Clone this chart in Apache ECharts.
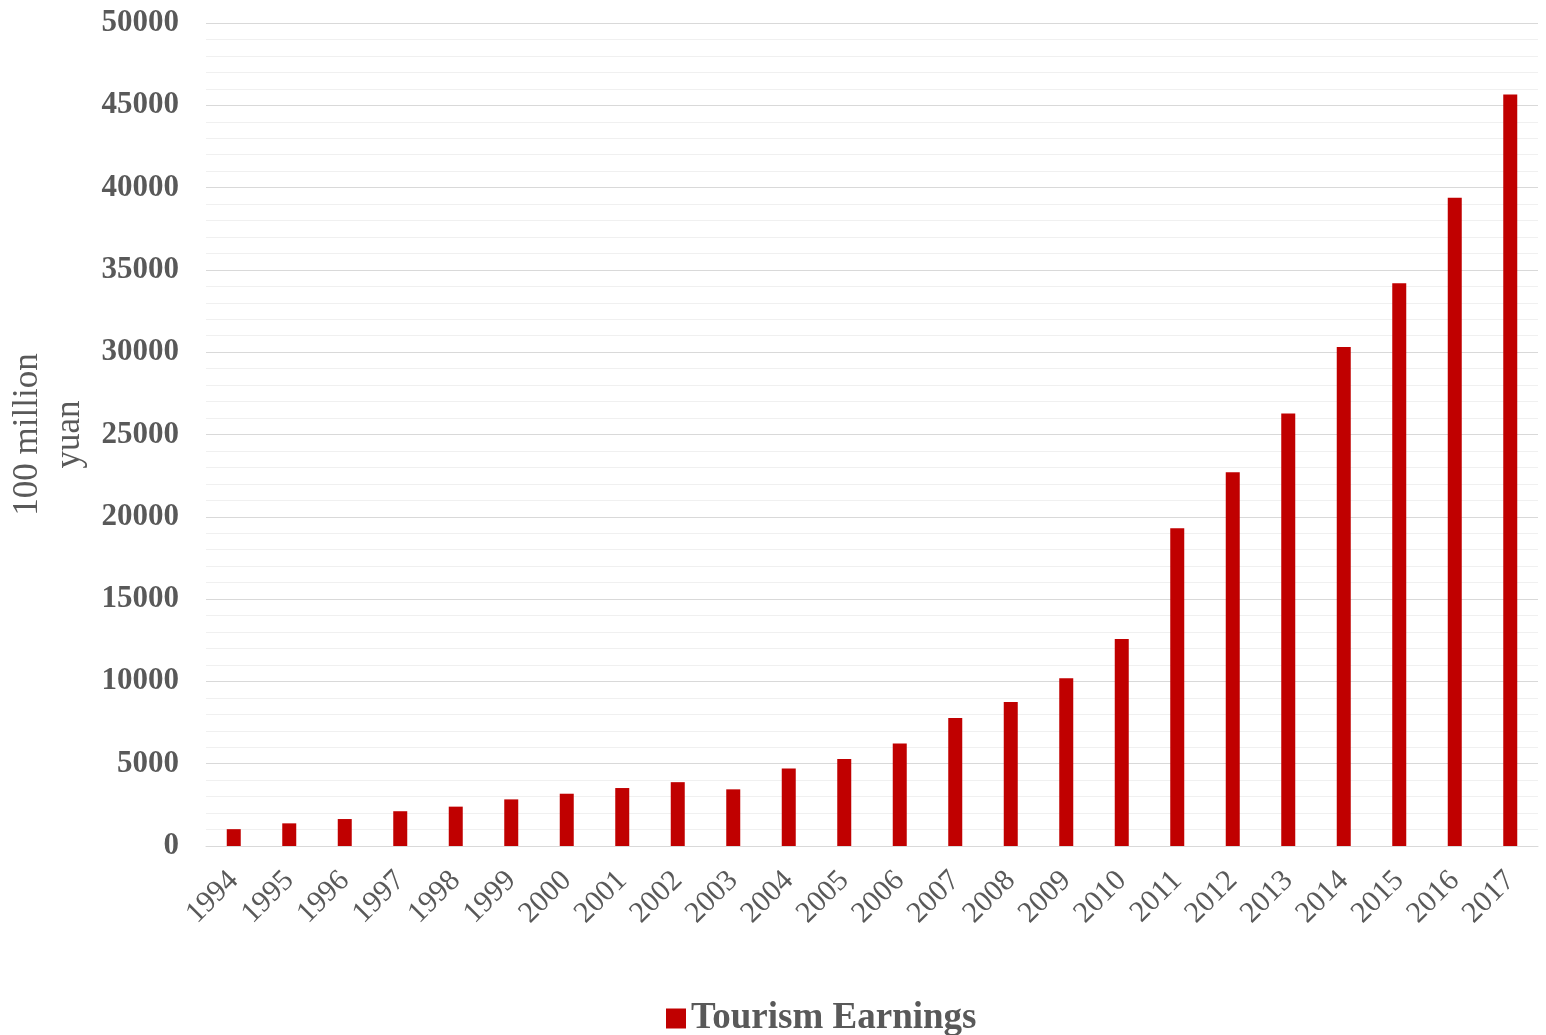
<!DOCTYPE html>
<html>
<head>
<meta charset="utf-8">
<script src="https://cdn.jsdelivr.net/npm/echarts@6/dist/echarts.min.js"></script>
<style>
  html, body { margin: 0; padding: 0; background: #fff; }
  #chart { width: 1546px; height: 1035px; }
</style>
</head>
<body>
<div id="chart"></div>
<script>
// Annual tourism earnings, 100 million yuan
const years = ['1994','1995','1996','1997','1998','1999','2000','2001','2002','2003','2004','2005',
               '2006','2007','2008','2009','2010','2011','2012','2013','2014','2015','2016','2017'];
const earnings = [1023, 1376, 1638, 2113, 2391, 2832, 3176, 3522, 3878, 3442, 4711, 5286,
                  6230, 7771, 8749, 10184, 12580, 19305, 22706, 26276, 30312, 34195, 39390, 45661];
const yTicks = [0, 50000, 5000]; // min, max, interval

const serif = '"Liberation Serif", "Times New Roman", serif';
const textColor = '#595959';

const chart = echarts.init(document.getElementById('chart'));
chart.setOption({
  animation: false,
  grid: { left: 206, right: 8, top: 23, bottom: 189, outerBoundsMode: 'none', containLabel: false },
  legend: {
    top: 995,
    left: 661,
    itemWidth: 20,
    itemHeight: 20,
    itemGap: 8,
    icon: 'rect',
    textStyle: { fontFamily: serif, fontSize: 37, fontWeight: 'bold', color: textColor }
  },
  xAxis: {
    type: 'category',
    data: years,
    axisLine: { lineStyle: { color: '#d9d9d9', width: 1 } },
    axisTick: { show: false },
    axisLabel: {
      rotate: 45,
      interval: 0,
      margin: 30,
      fontFamily: serif,
      fontSize: 30,
      color: textColor
    }
  },
  yAxis: {
    type: 'value',
    min: yTicks[0],
    max: yTicks[1],
    interval: yTicks[2],
    name: '100 million\nyuan',
    nameLocation: 'middle',
    nameRotate: 90,
    nameGap: 105,
    nameTextStyle: { fontFamily: serif, fontSize: 35, color: textColor, lineHeight: 42 },
    axisLine: { show: false },
    axisTick: { show: false },
    axisLabel: {
      fontFamily: serif, fontSize: 31, fontWeight: 'bold', color: textColor, margin: 27,
      formatter: v => String(v)
    },
    splitLine: { lineStyle: { color: '#d9d9d9', width: 1 } },
    minorTick: { show: false, splitNumber: 5 },
    minorSplitLine: { show: true, lineStyle: { color: '#f0f0f0', width: 1 } }
  },
  series: [{
    name: 'Tourism Earnings',
    type: 'bar',
    data: earnings,
    barWidth: 14,
    itemStyle: { color: '#c00000' }
  }]
});
</script>
</body>
</html>
